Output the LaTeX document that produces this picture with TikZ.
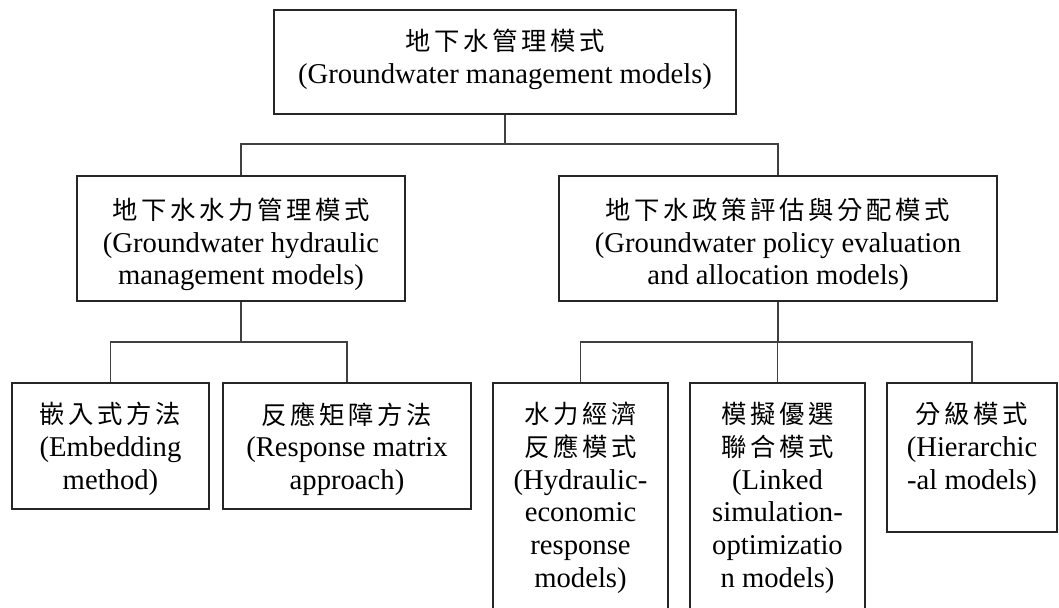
\documentclass[tikz,border=0pt]{standalone}
\usepackage{fontspec}
\setmainfont{Liberation Serif}
\newfontfamily\cjk[LetterSpace=14.5]{Noto Sans CJK TC}
\usetikzlibrary{fit}

% Chinese heading line, spaced out
\newcommand\zh[1]{{\cjk\fontsize{19}{24.5}\selectfont #1}}

\tikzset{
  box/.style={draw=black!85, line width=1.2pt, inner sep=0pt, fill=none},
  lbl/.style={align=center, inner sep=0pt, anchor=north,
              font=\fontsize{21.5}{24.5}\selectfont},
  link/.style={draw=black!75, line width=1.2pt}
}

\begin{document}
\begin{tikzpicture}[x=0.75pt,y=-0.75pt]
  \clip (0,0) rectangle (1059,607);
  \fill[white] (0,0) rectangle (1059,607);

  % boxes
  \node[box, fit={(274,10) (736,114)}]   (top) {};
  \node[box, fit={(77,176) (405,301)}]   (hml) {};
  \node[box, fit={(559,176) (997,301)}]  (pol) {};
  \node[box, fit={(12,383) (209,509)}]   (emb) {};
  \node[box, fit={(223,383) (471,509)}]  (rsp) {};
  \node[box, fit={(493,383) (668,650)}]  (hyd) {};
  \node[box, fit={(690,383) (865,650)}]  (lnk) {};
  \node[box, fit={(887,383) (1057,532)}] (hie) {};

  % labels
  \node[lbl] (ttop) at ([yshift=-15]top.north)
    {\zh{地下水管理模式}\\(Groundwater management models)};
  \node[lbl] (thml) at ([yshift=-17]hml.north)
    {\zh{地下水水力管理模式}\\(Groundwater hydraulic\\management models)};
  \node[lbl] (tpol) at ([yshift=-17]pol.north)
    {\zh{地下水政策評估與分配模式}\\(Groundwater policy evaluation\\and allocation models)};
  \node[lbl] (temb) at ([yshift=-15]emb.north)
    {\zh{嵌入式方法}\\(Embedding\\method)};
  \node[lbl] (trsp) at ([yshift=-15]rsp.north)
    {\zh{反應矩障方法}\\(Response matrix\\approach)};
  \node[lbl] (thyd) at ([yshift=-15]hyd.north)
    {\zh{水力經濟}\\\zh{反應模式}\\(Hydraulic-\\economic\\response\\models)};
  \node[lbl] (tlnk) at ([yshift=-15]lnk.north)
    {\zh{模擬優選}\\\zh{聯合模式}\\(Linked\\simulation-\\optimizatio\\n models)};
  \node[lbl] (thie) at ([yshift=-15]hie.north)
    {\zh{分級模式}\\(Hierarchic\\-al models)};

  % junction points of the tree
  \coordinate (j0) at (top.south |- 0,144);
  \coordinate (j1) at (hml.south |- 0,342);
  \coordinate (j2) at (pol.south |- 0,342);

  % connectors
  \draw[link] (top.south) -- (j0);
  \draw[link] (hml.north) |- (j0) -| (pol.north);
  \draw[link] (hml.south) -- (j1);
  \draw[link] (emb.north) |- (j1) -| (rsp.north);
  \draw[link] (pol.south) -- (j2);
  \draw[link] (hyd.north) |- (j2) -| (hie.north);
  \draw[link] (lnk.north) -- (lnk.north |- j2);
\end{tikzpicture}
\end{document}
